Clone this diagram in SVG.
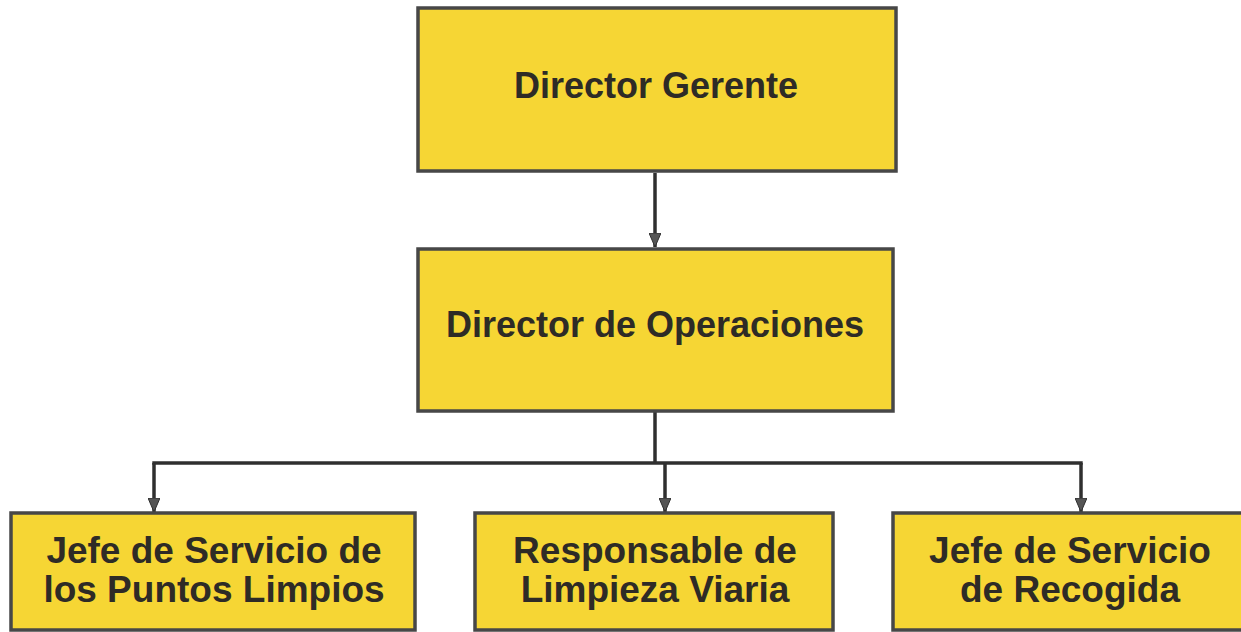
<svg xmlns="http://www.w3.org/2000/svg" width="1241" height="632" viewBox="0 0 1241 632">
<style>
.box{fill:#f6d634;stroke:#474747;stroke-width:3.5}
.t{font-family:"Liberation Sans",Arial,sans-serif;font-weight:bold;font-size:36px;fill:#2e2b26;text-anchor:middle}
.c{fill:none;stroke:#2f2f2f;stroke-width:3.5}
</style>
<defs>
<marker id="ah" viewBox="0 0 14 12" refX="14" refY="6" markerWidth="14" markerHeight="12" markerUnits="userSpaceOnUse" orient="auto">
<path d="M0,0 L14,6 L0,12 Z" fill="#555" stroke="#2f2f2f" stroke-width="1"/>
</marker>
</defs>
<rect width="1241" height="632" fill="#ffffff"/>
<g id="connectors">
<line class="c" x1="655" y1="173" x2="655" y2="247" marker-end="url(#ah)"/>
<path class="c" d="M655,412 V463"/>
<path class="c" d="M152.3,463 H1082.7"/>
<line class="c" x1="154" y1="463" x2="154" y2="512" marker-end="url(#ah)"/>
<line class="c" x1="665" y1="463" x2="665" y2="512" marker-end="url(#ah)"/>
<line class="c" x1="1081" y1="463" x2="1081" y2="512" marker-end="url(#ah)"/>
</g>
<g id="director-gerente">
<rect class="box" x="418" y="8" width="478" height="163"/>
<text class="t" x="656" y="98">Director Gerente</text>
</g>
<g id="director-operaciones">
<rect class="box" x="418" y="249" width="475" height="162"/>
<text class="t" x="655" y="337">Director de Operaciones</text>
</g>
<g id="jefe-puntos-limpios">
<rect class="box" x="11" y="513" width="404" height="117"/>
<text class="t" x="214" y="563" style="font-size:37px">Jefe de Servicio de</text>
<text class="t" x="214" y="602" style="font-size:37px">los Puntos Limpios</text>
</g>
<g id="responsable-limpieza">
<rect class="box" x="475" y="513" width="358" height="117"/>
<text class="t" x="655" y="563" style="font-size:37px">Responsable de</text>
<text class="t" x="655" y="602" style="font-size:37px">Limpieza Viaria</text>
</g>
<g id="jefe-recogida">
<rect class="box" x="893" y="513" width="350" height="117"/>
<text class="t" x="1070" y="563" style="font-size:37px">Jefe de Servicio</text>
<text class="t" x="1070" y="602" style="font-size:37px">de Recogida</text>
</g>
</svg>
